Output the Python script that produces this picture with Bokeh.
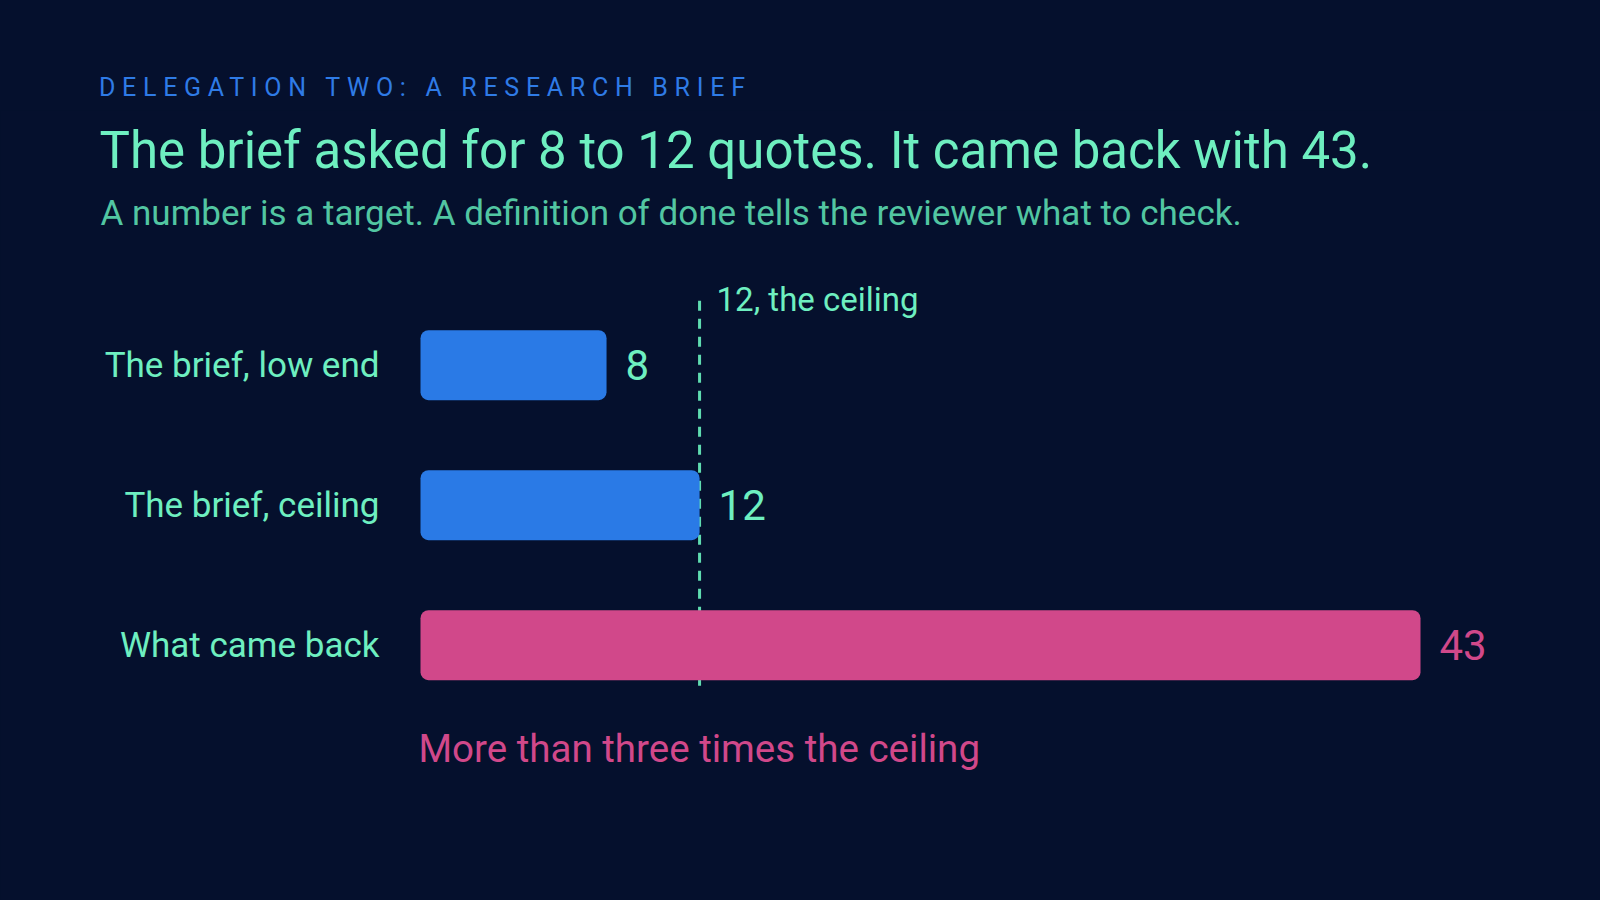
from bokeh.plotting import figure
from bokeh.models import Range1d, Label, Div, ColumnDataSource
from bokeh.layouts import column
from bokeh.core.properties import value
from bokeh.embed import file_html
from bokeh.resources import INLINE

# ---- data ----
categories = ["The brief, low end", "The brief, ceiling", "What came back"]
counts = [8, 12, 43]
ceiling = 12
eyebrow = "DELEGATION TWO: A RESEARCH BRIEF"
title = "The brief asked for 8 to 12 quotes. It came back with 43."
subtitle = "A number is a target. A definition of done tells the reviewer what to check."
ceiling_label = "12, the ceiling"
note = "More than three times the ceiling"

# ---- styles ----
BG = "#05102d"
BLUE = "#2a7ae6"
PINK = "#d1488a"
GREEN = "#6eefc0"
SUB = "#52c6a2"
EYEBROW = "#2f7be6"
FONT = "Roboto"

W = 1600
H = 900
DIV_H = 110
FIG_H = H - DIV_H

rows = list(range(len(categories)))
bar_colors = [PINK if c > ceiling else BLUE for c in counts]
lab_colors = [PINK if c > ceiling else GREEN for c in counts]

src = ColumnDataSource(dict(
    y=rows, cat=categories, val=counts, txt=[str(c) for c in counts],
    bc=bar_colors, lc=lab_colors,
))

div = Div(
    text=(f'<div style="font-family:{FONT};font-size:25px;line-height:25px;'
          f'letter-spacing:6.7px;color:{EYEBROW};padding:75px 0 0 99px;margin:0;'
          f'white-space:nowrap;font-weight:400">{eyebrow}</div>'),
    width=W, height=DIV_H, margin=0,
    styles={"background-color": BG, "margin": "0", "padding": "0"},
)

p = figure(
    width=W, height=FIG_H, output_backend="svg", toolbar_location=None,
    x_range=Range1d(-18.06, 50.74), y_range=Range1d(3.824, -1.819),
    min_border=0, min_border_left=0, min_border_right=0,
    min_border_top=0, min_border_bottom=0, margin=0,
)
p.background_fill_color = BG
p.border_fill_color = BG
p.outline_line_color = None
p.axis.visible = False
p.grid.visible = False

# ceiling reference line (behind bars)
p.segment(x0=[ceiling], x1=[ceiling], y0=[rows[0] - 0.46], y1=[rows[-1] + 0.29],
          line_color="#5fdcb0", line_width=3, line_dash="10 8")

p.hbar(y="y", left=0, right="val", height=0.5, source=src,
       fill_color="bc", line_color=None, border_radius=8)

p.text(x=0, y="y", text="cat", source=src, x_offset=-41,
       text_align="right", text_baseline="middle",
       text_font=value(FONT), text_font_size="35px", text_color=GREEN)

p.text(x="val", y="y", text="txt", source=src, x_offset=19,
       text_align="left", text_baseline="middle",
       text_font=value(FONT), text_font_size="42px", text_color="lc")

p.add_layout(Label(x=99, y=749.7, x_units="screen", y_units="screen", text=title,
                   text_font=FONT, text_font_size="51px", text_color=GREEN,
                   text_baseline="alphabetic"))
p.add_layout(Label(x=100, y=687.4, x_units="screen", y_units="screen", text=subtitle,
                   text_font=FONT, text_font_size="35px", text_color=SUB,
                   text_baseline="alphabetic"))
p.add_layout(Label(x=ceiling, y=601.2, x_units="data", y_units="screen", x_offset=17,
                   text=ceiling_label, text_font=FONT, text_font_size="33px",
                   text_color=GREEN, text_baseline="alphabetic"))
p.add_layout(Label(x=0, y=151.7, x_units="data", y_units="screen", x_offset=-2,
                   text=note, text_font=FONT, text_font_size="38.5px",
                   text_color=PINK, text_baseline="alphabetic"))

layout = column(div, p, spacing=0, margin=0, styles={"background-color": BG})
open("out.html", "w").write(file_html(layout, INLINE))
